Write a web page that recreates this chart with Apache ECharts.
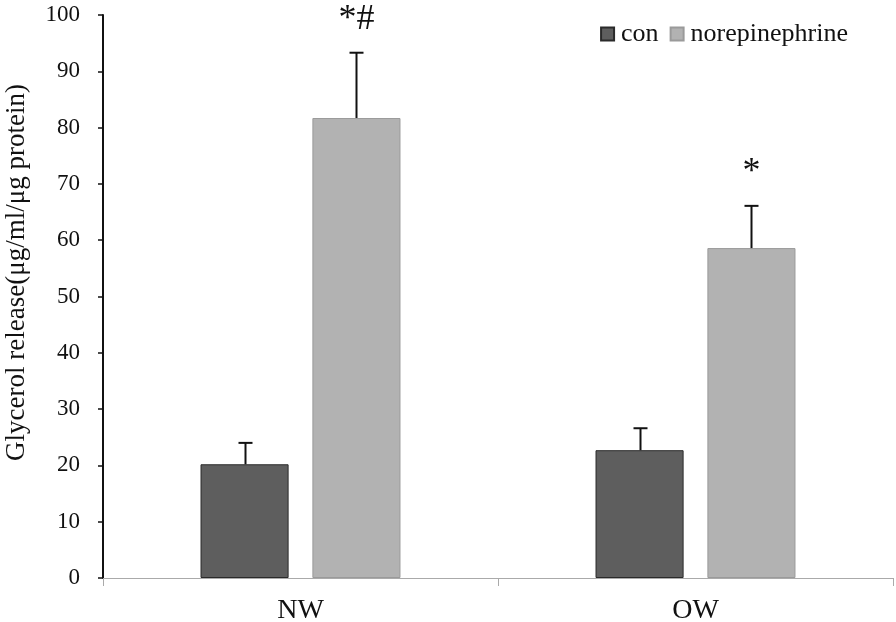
<!DOCTYPE html>
<html>
<head>
<meta charset="utf-8">
<script src="https://cdn.jsdelivr.net/npm/echarts@6/dist/echarts.min.js"></script>
<style>html,body{margin:0;padding:0;background:#fff}#c{width:896px;height:622px}</style>
</head>
<body>
<div id="c"></div>
<script>
var categories = ['NW', 'OW'];
var conValues = [20.2, 22.7];
var conErr = [3.8, 3.9];
var neValues = [81.7, 58.6];
var neErr = [11.6, 7.5];
var neMarks = ['*#', '*'];
var yTicks = [0, 10, 20, 30, 40, 50, 60, 70, 80, 90, 100];

var FONT = '"Liberation Serif", "DejaVu Serif", serif';
var BW = 0.223, GAP = 0.27;

function errSeries(name, vals, errs, sign, marks) {
  var data = vals.map(function (v, i) { return [i, v, v + errs[i]]; });
  return {
    type: 'custom',
    name: name + '_err',
    data: data,
    z: 5,
    silent: true,
    renderItem: function (params, api) {
      var band = api.size([1, 0])[0];
      var w = band * BW;
      var off = sign * (w * (2 + GAP) / 2 - w / 2);
      var base = api.coord([api.value(0), api.value(1)]);
      var top = api.coord([api.value(0), api.value(2)]);
      var x = Math.round(base[0] + off) + 0.5;
      var children = [
        {type: 'line', shape: {x1: x, y1: base[1], x2: x, y2: top[1]}, style: {stroke: '#111', lineWidth: 2}},
        {type: 'line', shape: {x1: x - 7, y1: top[1], x2: x + 7, y2: top[1]}, style: {stroke: '#111', lineWidth: 2}}
      ];
      var m = marks ? marks[params.dataIndex] : '';
      if (m) {
        children.push({type: 'text', style: {text: m, x: x, y: top[1] - 33, textAlign: 'center', textVerticalAlign: 'middle', font: '36px ' + FONT, fill: '#111'}});
      }
      return {type: 'group', children: children};
    }
  };
}

var chart = echarts.init(document.getElementById('c'));
chart.setOption({
  animation: false,
  backgroundColor: '#fff',
  textStyle: {fontFamily: FONT},
  grid: {left: 103, right: 3, top: 15, bottom: 44, containLabel: false, outerBoundsMode: 'none'},
  legend: {
    data: ['con', 'norepinephrine'],
    top: 16, right: 43,
    icon: 'rect',
    itemWidth: 13, itemHeight: 13, itemGap: 11,
    textStyle: {fontFamily: FONT, fontSize: 26, color: '#111', padding: [0, 0, 0, 2]}
  },
  xAxis: {
    type: 'category',
    data: categories,
    axisLine: {lineStyle: {color: '#aaa', width: 1}},
    axisTick: {show: true, length: 8, lineStyle: {color: '#aaa'}},
    axisLabel: {fontFamily: FONT, fontSize: 28, color: '#111', margin: 19}
  },
  yAxis: {
    type: 'value',
    min: 0, max: 100, interval: 10,
    name: 'Glycerol release(μg/ml/μg protein)',
    nameLocation: 'middle',
    nameGap: 73,
    nameTextStyle: {fontFamily: FONT, fontSize: 27, color: '#111', padding: [0, 0, 0, 48]},
    axisLine: {show: true, lineStyle: {color: '#111', width: 2}},
    axisTick: {show: true, length: 5, lineStyle: {color: '#111', width: 1.5}},
    axisLabel: {fontFamily: FONT, fontSize: 23, color: '#111', margin: 23,
      formatter: function (v) { return yTicks.indexOf(v) >= 0 ? String(v) : ''; }},
    splitLine: {show: false}
  },
  series: [
    {name: 'con', type: 'bar', data: conValues, barWidth: (BW * 100) + '%', barGap: (GAP * 100) + '%',
      itemStyle: {color: '#5e5e5e', borderColor: '#2a2a2a', borderWidth: 1}},
    {name: 'norepinephrine', type: 'bar', data: neValues, barWidth: (BW * 100) + '%',
      itemStyle: {color: '#b2b2b2', borderColor: '#9a9a9a', borderWidth: 1}},
    errSeries('con', conValues, conErr, -1, null),
    errSeries('norepinephrine', neValues, neErr, 1, neMarks)
  ]
});
</script>
</body>
</html>
